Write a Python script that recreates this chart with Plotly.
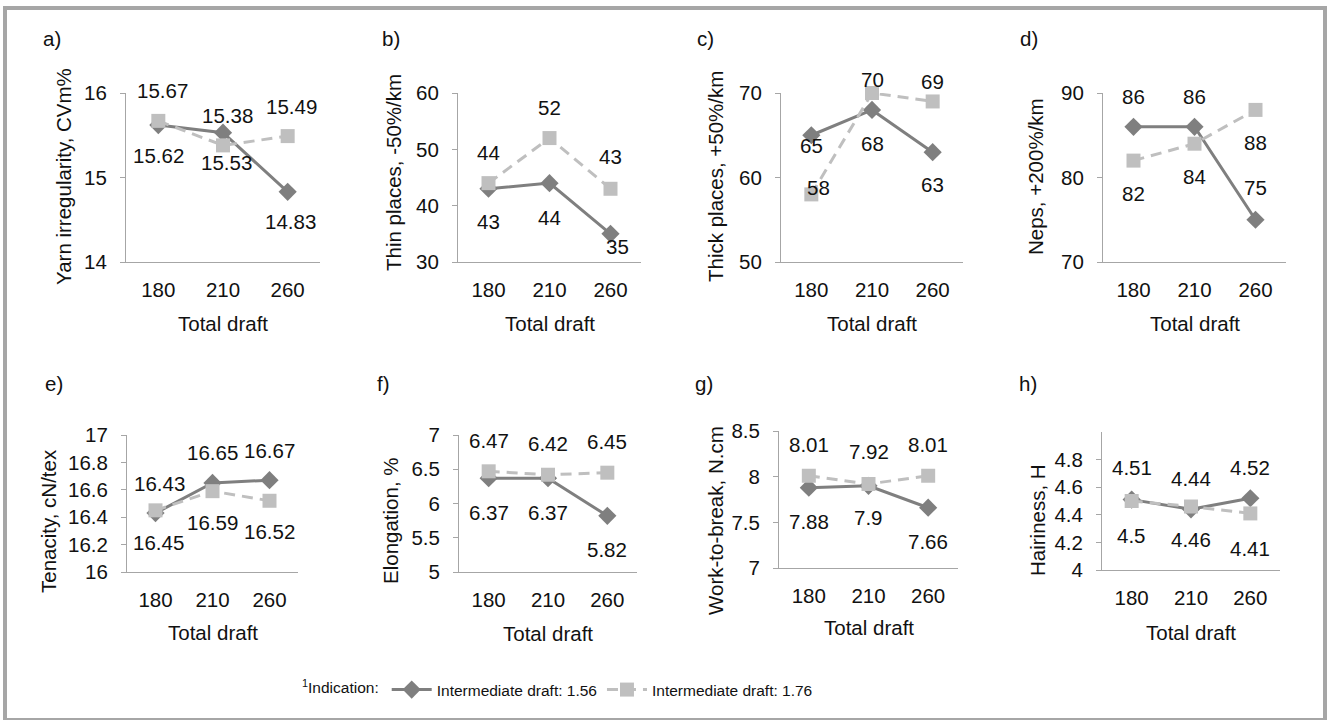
import plotly.graph_objects as go

W, H = 1328, 720

# ---------------- data ----------------
draft = ["180", "210", "260"]
series_names = ["Intermediate draft: 1.56", "Intermediate draft: 1.76"]
panel_letters = ["a)", "b)", "c)", "d)", "e)", "f)", "g)", "h)"]
y_titles = ["Yarn irregularity, CVm%", "Thin places, -50%/km", "Thick places, +50%/km",
            "Neps, +200%/km", "Tenacity, cN/tex", "Elongation, %",
            "Work-to-break, N.cm", "Hairiness, H"]
x_title = "Total draft"

cv_156 = [15.62, 15.53, 14.83]
cv_176 = [15.67, 15.38, 15.49]
thin_156 = [43, 44, 35]
thin_176 = [44, 52, 43]
thick_156 = [65, 68, 63]
thick_176 = [58, 70, 69]
neps_156 = [86, 86, 75]
neps_176 = [82, 84, 88]
ten_156 = [16.43, 16.65, 16.67]
ten_176 = [16.45, 16.59, 16.52]
elong_156 = [6.37, 6.37, 5.82]
elong_176 = [6.47, 6.42, 6.45]
wtb_156 = [7.88, 7.9, 7.66]
wtb_176 = [8.01, 7.92, 8.01]
hair_156 = [4.51, 4.44, 4.52]
hair_176 = [4.5, 4.46, 4.41]

y_ranges = [[14, 16], [30, 60], [50, 70], [70, 90], [16, 17], [5, 7], [7, 8.5], [4, 5]]
y_ticks = [[14, 15, 16], [30, 40, 50, 60], [50, 60, 70], [70, 80, 90],
           [16, 16.2, 16.4, 16.6, 16.8, 17], [5, 5.5, 6, 6.5, 7],
           [7, 7.5, 8, 8.5], [4, 4.2, 4.4, 4.6, 4.8]]

s156 = [cv_156, thin_156, thick_156, neps_156, ten_156, elong_156, wtb_156, hair_156]
s176 = [cv_176, thin_176, thick_176, neps_176, ten_176, elong_176, wtb_176, hair_176]

# ---------------- layout / style (pixels) ----------------
# plot areas: (x0, x1, ytop, ybottom)
areas = [(126, 320, 93, 262), (458, 641, 93, 262), (781, 963, 93, 262), (1103, 1286, 93, 262),
         (127, 298, 435, 572), (459, 637, 435, 572), (779, 958, 431, 568), (1102, 1280, 432, 570)]
letter_pos = [(41, 38), (380, 38), (695, 38), (1018, 38),
              (43, 383), (375, 383), (693, 383), (1017, 383)]
ytitle_pos = [(63, 177), (393, 173), (715, 177), (1035, 177),
              (48, 521), (390, 521), (715, 521), (1037, 520)]
xtitle_y = [323, 323, 323, 323, 632, 633, 627, 632]

# label offsets (dx, dy) in px, dy positive = downwards
off156 = [[(0, 30), (3, 30), (3, 30)],
          [(0, 33), (0, 34), (7, 13)],
          [(0, 10), (0, 34), (0, 32)],
          [(0, -30), (0, -30), (0, -32)],
          [(4, -30), (0, -30), (0, -30)],
          [(0, 34), (0, 34), (0, 34)],
          [(0, 34), (0, 32), (0, 34)],
          [(0, -32), (0, -31), (0, -31)]]
off176 = [[(4, -30), (4, -30), (4, -30)],
          [(0, -31), (0, -31), (0, -32)],
          [(7, -7), (0, -13), (0, -20)],
          [(0, 33), (0, 33), (0, 33)],
          [(3, 32), (0, 31), (0, 31)],
          [(0, -31), (0, -31), (0, -31)],
          [(0, -31), (0, -32), (0, -31)],
          [(0, 34), (0, 33), (0, 35)]]

dark = "#7f7f7f"
light = "#bfbfbf"
axis_col = "#a6a6a6"
txt_col = "#111111"
FONT = "Liberation Sans, Arial, Helvetica, sans-serif"
FS = 20.5
LEG_FS = 15.5


def px(x):
    return x / W


def py(y):
    return 1 - y / H


fig = go.Figure()
annotations = []

for i in range(8):
    n = i + 1
    xa = "x" if n == 1 else f"x{n}"
    ya = "y" if n == 1 else f"y{n}"
    x0, x1, yt, yb = areas[i]

    fig.add_trace(go.Scatter(
        x=draft, y=s156[i], xaxis=xa, yaxis=ya, mode="lines+markers",
        name=series_names[0], showlegend=(i == 0), legendrank=1,
        line=dict(color=dark, width=3),
        marker=dict(symbol="diamond", size=14, color=dark),
        cliponaxis=False))
    fig.add_trace(go.Scatter(
        x=draft, y=s176[i], xaxis=xa, yaxis=ya, mode="lines+markers",
        name=series_names[1], showlegend=(i == 0), legendrank=2,
        line=dict(color=light, width=3, dash="11px,7px"),
        marker=dict(symbol="square", size=14, color=light),
        cliponaxis=False))

    fig.update_layout(**{
        ("xaxis" if n == 1 else f"xaxis{n}"): dict(
            domain=[px(x0), px(x1)], anchor=ya, type="category",
            categoryorder="array", categoryarray=draft, automargin=False,
            range=[-0.5, 2.5], showline=True, linecolor=axis_col, linewidth=1,
            showgrid=False, zeroline=False, ticks="", ticklabelstandoff=9,
            tickfont=dict(family=FONT, size=FS, color=txt_col), fixedrange=True),
        ("yaxis" if n == 1 else f"yaxis{n}"): dict(
            domain=[py(yb), py(yt)], anchor=xa, range=y_ranges[i], automargin=False,
            tickvals=y_ticks[i], showline=True, linecolor=axis_col, linewidth=1,
            showgrid=False, zeroline=False, ticks="outside", ticklen=5,
            tickcolor=axis_col, ticklabelstandoff=9,
            tickfont=dict(family=FONT, size=FS, color=txt_col), fixedrange=True),
    })

    # data labels (category axis: position by category index)
    for vals, offs in ((s156[i], off156[i]), (s176[i], off176[i])):
        for k, v in enumerate(vals):
            dx, dy = offs[k]
            annotations.append(dict(
                xref=xa, yref=ya, x=k, y=v, text=str(v), showarrow=False,
                xshift=dx, yshift=-dy, xanchor="center", yanchor="middle",
                font=dict(family=FONT, size=FS, color=txt_col)))

    # panel letter
    lx, ly = letter_pos[i]
    annotations.append(dict(xref="paper", yref="paper", x=px(lx), y=py(ly),
                            text=panel_letters[i], showarrow=False, xanchor="left",
                            yanchor="middle", font=dict(family=FONT, size=FS, color=txt_col)))
    # y title
    tx, ty = ytitle_pos[i]
    annotations.append(dict(xref="paper", yref="paper", x=px(tx), y=py(ty),
                            text=y_titles[i], showarrow=False, textangle=-90,
                            xanchor="center", yanchor="middle",
                            font=dict(family=FONT, size=FS, color=txt_col)))
    # x title
    annotations.append(dict(xref="paper", yref="paper", x=px((x0 + x1) / 2), y=py(xtitle_y[i]),
                            text=x_title, showarrow=False, xanchor="center", yanchor="middle",
                            font=dict(family=FONT, size=FS, color=txt_col)))

fig.update_layout(
    width=W, height=H, margin=dict(l=0, r=0, t=0, b=0, autoexpand=False),
    paper_bgcolor="white", plot_bgcolor="white",
    annotations=annotations,
    showlegend=True,
    legend=dict(orientation="h", x=px(300), y=py(690), xanchor="left", yanchor="middle",
                title=dict(text="<sup>1</sup>Indication:", side="left",
                           font=dict(family=FONT, size=LEG_FS, color=txt_col)),
                font=dict(family=FONT, size=LEG_FS, color=txt_col),
                bgcolor="rgba(0,0,0,0)", itemwidth=40, traceorder="normal"),
    shapes=[dict(type="rect", xref="paper", yref="paper", x0=px(5), x1=px(1325),
                 y0=py(720), y1=py(8), line=dict(color="#a6a6a6", width=4),
                 fillcolor="rgba(0,0,0,0)", layer="below")],
)

fig.write_html("out.html", config={"displayModeBar": False},
               post_script="document.body.style.margin='0px';")
